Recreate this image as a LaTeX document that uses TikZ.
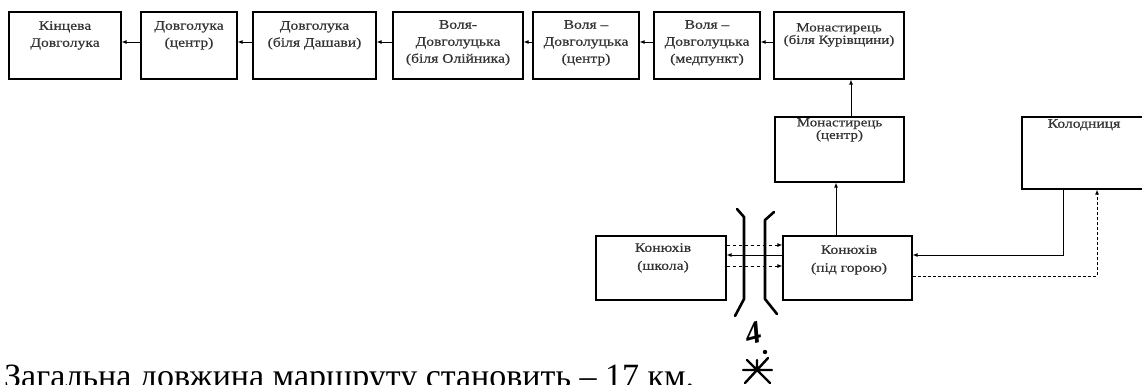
\documentclass[tikz,border=0pt]{standalone}
\usepackage{fontspec}
\setmainfont{Liberation Serif}
\newfontfamily\boxfont[FakeStretch=1.2,FakeBold=0.6]{Liberation Serif}
\usetikzlibrary{arrows.meta}
\begin{document}
\begin{tikzpicture}[x=1pt,y=-1pt,
  box/.style={draw=black, line width=1.2pt, inner sep=0pt},
  txt/.style={anchor=north, inner sep=0pt, align=center, text=black!80, font=\boxfont\fontsize{13}{17}\selectfont},
  tight/.style={font=\boxfont\fontsize{12.5}{12.5}\selectfont},
  arr/.style={-{Latex[length=5pt,width=4pt]}, line width=0.9pt},
  hand/.style={line width=2.6pt, line cap=round, line join=round}]
\useasboundingbox (0,0) rectangle (1142,384);
\clip (0,0) rectangle (1142,384);
% top row
\node[box, minimum width=112pt, minimum height=67pt] (b1) at (65,45.5) {};
\node[box, minimum width=96pt, minimum height=67pt] (b2) at (189,45.5) {};
\node[box, minimum width=123pt, minimum height=67pt] (b3) at (314.5,45.5) {};
\node[box, minimum width=130pt, minimum height=67pt] (b4) at (458,45.5) {};
\node[box, minimum width=106pt, minimum height=67pt] (b5) at (586,45.5) {};
\node[box, minimum width=106pt, minimum height=67pt] (b6) at (707,45.5) {};
\node[box, minimum width=130pt, minimum height=67pt] (b7) at (839,45.5) {};
\node[txt] (t1) at (65,21) {Кінцева\\Довголука};
\node[txt] (t2) at (189,21) {Довголука\\(центр)};
\node[txt] (t3) at (314.5,21) {Довголука\\(біля Дашави)};
\node[txt] (t4) at (458,20) {Воля-\\Довголуцька\\(біля Олійника)};
\node[txt] (t5) at (586,20) {Воля –\\Довголуцька\\(центр)};
\node[txt] (t6) at (707,20) {Воля –\\Довголуцька\\(медпункт)};
\node[txt, tight] (t7) at (839,23) {Монастирець\\(біля Курівщини)};
\foreach \a/\b in {b2/b1,b3/b2,b4/b3,b5/b4,b6/b5,b7/b6}
  \draw[arr] ([yshift=3.5pt]\a.west) -- ([yshift=3.5pt]\b.east);
% middle
\node[box, minimum width=129pt, minimum height=65pt] (mc) at (839.5,149.5) {};
\node[txt, tight] (tmc) at (839.5,118) {Монастирець\\(центр)};
\node[box, minimum width=138pt, minimum height=72pt] (kd) at (1091,153) {};
\node[txt] (tkd) at (1084,119) {Колодниця};
\draw[arr] ([xshift=11.5pt]mc.north) -- ([xshift=11.5pt]mc.north |- b7.south);
% bottom
\node[box, minimum width=130pt, minimum height=64pt] (sch) at (661,268) {};
\node[box, minimum width=129pt, minimum height=64pt] (uh) at (847.5,268) {};
\node[txt, font=\boxfont\fontsize{13}{18}\selectfont] (tsch) at (663,243) {Конюхів\\(школа)};
\node[txt, font=\boxfont\fontsize{13}{18}\selectfont] (tuh) at (849,245) {Конюхів\\(під горою)};
\draw[arr] ([xshift=-11.5pt]uh.north) -- ([xshift=-11.5pt]uh.north |- mc.south);
\draw[arr, dashed] ([yshift=23pt]sch.east) -- ([yshift=23pt]uh.west);
\draw[arr] ([yshift=13pt]uh.west) -- ([yshift=13pt]sch.east);
\draw[arr, dashed] ([yshift=2pt]sch.east) -- ([yshift=2pt]uh.west);
\coordinate (r1) at (1063,255);
\coordinate (r2) at (1097,276);
\draw[arr] (kd.south -| r1) -- (r1) -- (uh.east |- r1);
\draw[arr, densely dashed] (uh.east |- r2) -- (r2) -- (kd.south -| r2);
% handwritten marks
\draw[hand] (737,209) -- (744,217) -- (744,299) -- (735,316);
\draw[hand] (774,212) -- (765,220) -- (765,299) -- (777,314);
\node[inner sep=0pt, font=\fontsize{32}{32}\selectfont\bfseries\itshape, rotate=15] (four) at (753,333) {4};
\fill (765,352) circle (2.2pt);
\draw[line width=2.4pt, line cap=round] (747,360) -- (757,370) -- (768,358)
  (745,383) -- (757,370) -- (770,383) (743,370) -- (772,370) (757,360) -- (757,370);
% total
\node[anchor=base west, inner sep=0pt, font=\fontsize{34}{40}\selectfont] (total) at (4,387) {Загальна довжина маршруту становить – 17 км.};
\end{tikzpicture}
\end{document}
